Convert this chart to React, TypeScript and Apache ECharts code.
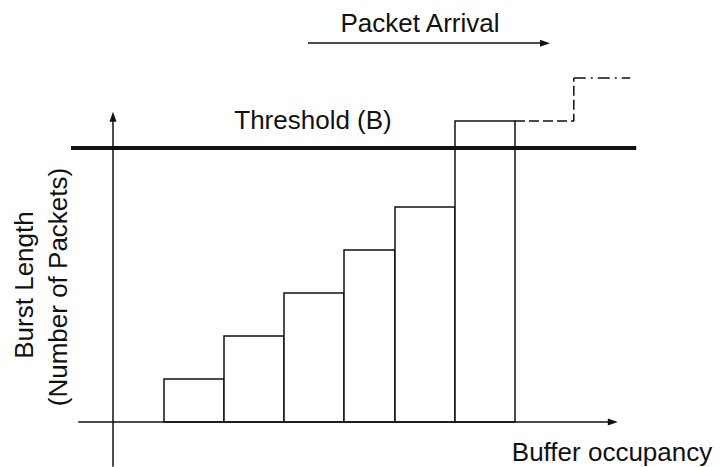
import React, { useEffect, useRef } from "react";
import * as echarts from "echarts";

// Buffer occupancy extent of each burst (x, arbitrary units) and burst length (y, packets)
const barStarts = [0.85, 1.85, 2.85, 3.85, 4.7, 5.7];
const barEnds = [1.85, 2.85, 3.85, 4.7, 5.7, 6.7];
const burstLengths = [1, 2, 3, 4, 5, 7];
const thresholdB = 6.37;
// future (dashed) step after the last burst
const dashedStep = [
  [6.7, 7],
  [7.68, 7],
  [7.68, 8],
];
const dashDotStep = [
  [7.68, 8],
  [8.62, 8],
];
// axis lines (data coords)
const xAxisLine = [
  [-0.58, 0],
  [8.33, 0],
];
const yAxisLine = [
  [0, -1.04],
  [0, 7.1],
];
const thresholdLine = [
  [-0.7, thresholdB],
  [8.72, thresholdB],
];
const arrivalArrow = [
  [3.25, 8.81],
  [7.2, 8.81],
];

const X_MIN = -113 / 60;
const X_MAX = 607 / 60;
const Y_MIN = -45 / 43;
const Y_MAX = 422 / 43;

const INK = "#111";
const FONT = "'Liberation Sans', Arial, Helvetica, sans-serif";

function arrowSeries(pts: number[][], name: string) {
  return {
    type: "line",
    name,
    data: [],
    silent: true,
    markLine: {
      silent: true,
      symbol: ["none", "triangle"],
      symbolSize: [7, 10],
      label: { show: false },
      lineStyle: { color: INK, width: 1.5, type: "solid" },
      itemStyle: { color: INK },
      emphasis: { disabled: true },
      data: [[{ coord: pts[0] }, { coord: pts[1] }]],
    },
  };
}

export default function App() {
  const ref = useRef<HTMLDivElement>(null);
  useEffect(() => {
    if (!ref.current) return;
    const chart = echarts.init(ref.current, undefined, { renderer: "svg" });
    const barData = barStarts.map((s, i) => [s, barEnds[i], burstLengths[i]]);
    chart.setOption({
      animation: false,
      backgroundColor: "#fff",
      grid: { left: 0, right: 0, top: 0, bottom: 0 },
      xAxis: {
        type: "value",
        min: X_MIN,
        max: X_MAX,
        show: false,
      },
      yAxis: {
        type: "value",
        min: Y_MIN,
        max: Y_MAX,
        show: false,
      },
      series: [
        arrowSeries(xAxisLine, "xaxis"),
        arrowSeries(yAxisLine, "yaxis"),
        arrowSeries(arrivalArrow, "arrival"),
        {
          type: "custom",
          name: "bursts",
          data: barData,
          encode: { x: [0, 1], y: 2 },
          z: 3,
          renderItem: (params: any, api: any) => {
            const p0 = api.coord([api.value(0), api.value(2)]);
            const p1 = api.coord([api.value(1), 0]);
            return {
              type: "rect",
              shape: {
                x: p0[0],
                y: p0[1],
                width: p1[0] - p0[0],
                height: p1[1] - p0[1],
              },
              style: { fill: "#fff", stroke: INK, lineWidth: 1.5 },
            };
          },
        },
        {
          type: "line",
          name: "threshold",
          data: thresholdLine,
          z: 5,
          showSymbol: false,
          silent: true,
          lineStyle: { color: INK, width: 4 },
        },
        {
          type: "line",
          name: "next",
          data: dashedStep,
          z: 5,
          showSymbol: false,
          silent: true,
          lineStyle: { color: INK, width: 1.5, type: [10, 4] },
        },
        {
          type: "line",
          name: "next2",
          data: dashDotStep,
          z: 5,
          showSymbol: false,
          silent: true,
          lineStyle: { color: INK, width: 1.5, type: [12, 5, 2, 5] },
        },
      ],
      graphic: [
        {
          type: "text",
          x: 420,
          y: 23,
          style: {
            text: "Packet Arrival",
            font: `26px ${FONT}`,
            fill: INK,
            align: "center",
            verticalAlign: "middle",
          },
        },
        {
          type: "text",
          x: 313,
          y: 120,
          style: {
            text: "Threshold (B)",
            font: `26px ${FONT}`,
            fill: INK,
            align: "center",
            verticalAlign: "middle",
          },
        },
        {
          type: "text",
          x: 612,
          y: 452,
          style: {
            text: "Buffer occupancy",
            font: `26px ${FONT}`,
            fill: INK,
            align: "center",
            verticalAlign: "middle",
          },
        },
        {
          type: "text",
          x: 24,
          y: 285,
          rotation: Math.PI / 2,
          style: {
            text: "Burst Length",
            font: `26px ${FONT}`,
            fill: INK,
            align: "center",
            verticalAlign: "middle",
          },
        },
        {
          type: "text",
          x: 58,
          y: 287,
          rotation: Math.PI / 2,
          style: {
            text: "(Number of Packets)",
            font: `26px ${FONT}`,
            fill: INK,
            align: "center",
            verticalAlign: "middle",
          },
        },
      ],
    });
    return () => chart.dispose();
  }, []);
  return (
    <div
      ref={ref}
      style={{ position: "fixed", left: 0, top: 0, width: 720, height: 467 }}
    />
  );
}
